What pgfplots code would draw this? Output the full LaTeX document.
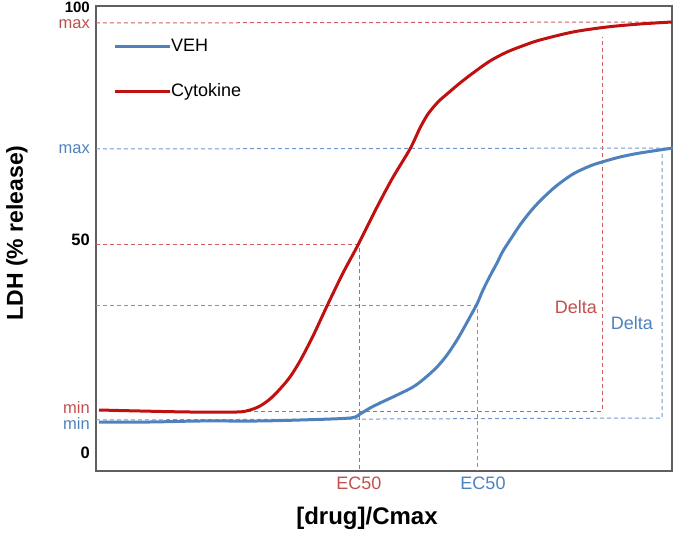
\documentclass[border=0pt]{standalone}
\usepackage{fontspec}
\setmainfont{Liberation Sans}
\usepackage{pgfplots}
\pgfplotsset{compat=1.18}
\definecolor{curvered}{RGB}{192,16,16}
\definecolor{curveblue}{RGB}{79,129,189}
\definecolor{dashred}{RGB}{205,95,95}
\definecolor{dashblue}{RGB}{115,150,205}
\definecolor{lblred}{RGB}{192,80,77}
\definecolor{lblblue}{RGB}{79,129,189}
\definecolor{framegray}{RGB}{95,95,95}

% coordinates are in reference pixels: x = px, y = -py
\begin{document}
\begin{tikzpicture}
\useasboundingbox (-96pt,-65pt) rectangle (584pt,471pt);
\begin{axis}[
    scale only axis,
    width=576pt,
    height=465pt,
    xmin=96, xmax=672,
    ymin=-471, ymax=-6,
    clip=false,
    axis line style={draw=framegray, line width=1.5pt},
    major tick length=0pt,
    xtick={359,483},
    xticklabels={\textcolor{lblred}{EC50}, \textcolor{lblblue}{EC50}},
    ytick={-453,-424,-408,-240,-149,-24.5,-7.5},
    yticklabels={
        {\textbf{0}\hspace{8pt}},
        {\textcolor{lblblue}{min}},
        {\textcolor{lblred}{min}},
        {\textbf{50}\hspace{8pt}},
        {\textcolor{lblblue}{max}},
        {\textcolor{lblred}{max}},
        {\fontsize{15}{15}\selectfont\textbf{100}\hspace{8pt}}},
    xticklabel style={font=\fontsize{18}{18}\selectfont, inner sep=0pt, yshift=-6pt},
    yticklabel style={font=\fontsize{16.5}{16.5}\selectfont, inner sep=0pt, xshift=-6pt},
    legend image code/.code={\draw[#1] (0pt,0pt) -- (55pt,0pt);},
    legend cell align=left,
    legend style={draw=none, fill=none, at={(axis cs:113,-38)}, anchor=north west,
        inner sep=0pt, row sep=28pt, font=\fontsize{18}{18}\selectfont,
        nodes={inner sep=0pt, text height=13pt, text depth=4pt},
        /tikz/every even column/.append style={column sep=4pt}},
    guide/.style={line width=1pt, dash pattern=on 4pt off 3pt},
    curve/.style={line width=3pt, line join=round, smooth, tension=0.5},
]
% guide lines, Cytokine
\addplot[guide, dashred, forget plot] coordinates {(96,-23) (672,-22)};
\addplot[guide, dashred, forget plot] coordinates {(96,-245) (359,-245) (359,-471)};
\addplot[guide, dashred, forget plot] coordinates {(240,-411) (602,-411) (602,-37)};
% guide lines, VEH
\addplot[guide, dashblue, forget plot] coordinates {(96,-149) (672,-148)};
\addplot[guide, dashblue, forget plot] coordinates {(96,-305) (477,-305) (477,-471)};
\addplot[guide, dashblue, forget plot] coordinates {(96,-420) (662,-418) (662,-153)};

% VEH
\addplot[curveblue, curve] coordinates {
    (99,-422) (150,-422) (200,-421) (257,-421) (300,-420) (350,-418) (360,-414)
    (370,-408) (380,-403) (395,-396) (413,-387) (425,-378) (437,-367) (447,-355)
    (457,-340) (465,-326) (471,-315) (477,-304) (483,-290) (490,-276) (497,-263)
    (503,-251) (512,-237) (520,-225) (530,-212) (540,-201) (555,-187) (573,-174)
    (590,-166) (602,-162) (620,-157) (640,-153) (673,-148)
};
\addlegendentry{VEH}
% Cytokine
\addplot[curvered, curve] coordinates {
    (99,-410) (140,-411) (190,-412) (237,-412) (250,-410) (260,-406) (270,-399)
    (280,-389) (290,-377) (300,-361) (313,-336) (327,-306) (343,-273) (358,-245)
    (375,-211) (392,-179) (410,-149) (420,-128) (428,-114) (438,-102) (447,-94)
    (460,-83) (473,-73) (490,-61) (507,-52) (525,-45) (540,-40) (573,-32)
    (607,-27) (640,-24) (672,-22)
};
\addlegendentry{Cytokine}

\node[lblred, font=\fontsize{18}{18}\selectfont] at (axis cs:576,-307) {Delta};
\node[lblblue, font=\fontsize{18}{18}\selectfont] at (axis cs:632,-323) {Delta};
\node[font=\fontsize{24}{24}\selectfont\bfseries] at (axis cs:367,-518) {[drug]/Cmax};
\node[font=\fontsize{23}{23}\selectfont\bfseries, rotate=90] at (axis cs:17,-233) {LDH (\% release)};
\end{axis}
\end{tikzpicture}
\end{document}
